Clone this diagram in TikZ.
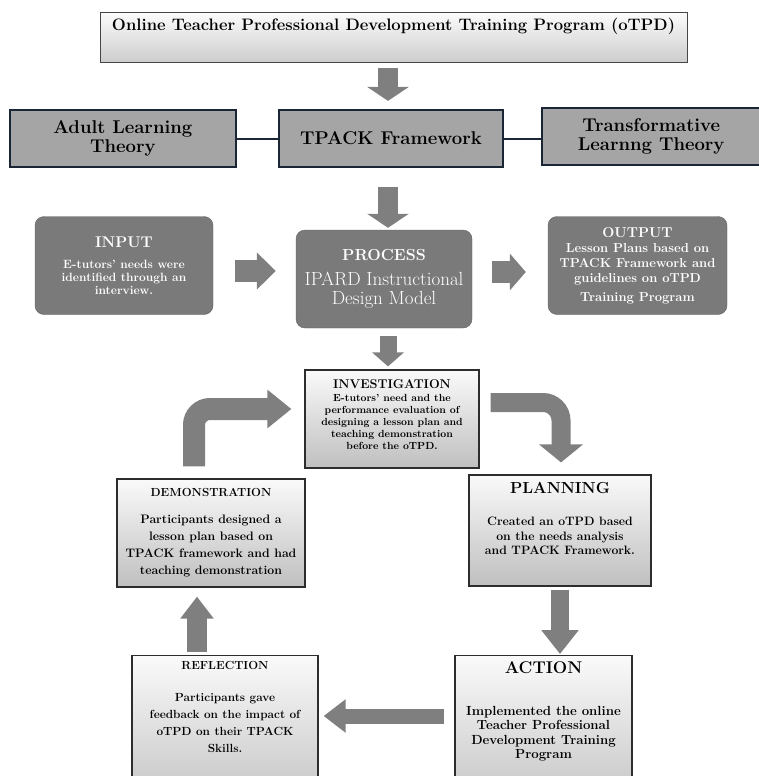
\documentclass[tikz,border=0pt]{standalone}
\usepackage{tikz}
\usetikzlibrary{arrows.meta, positioning}

\definecolor{arrowgray}{HTML}{7F7F7F}
\definecolor{navyline}{HTML}{1A2636}
\definecolor{theorygray}{HTML}{A5A5A5}
\definecolor{ipogray}{HTML}{7A7A7A}

\newcommand{\fsz}[2]{\fontsize{#1}{#2}\selectfont}

\tikzset{
    node distance = 40pt and 40pt, % gap between neighbouring boxes
    arrowbar/.style = {draw=arrowgray, line width=20pt, -{Triangle[width=41pt, length=14pt]}}, % the grey block arrows
    titlebox/.style = {rectangle, draw=gray!55!black, line width=1pt, top color=gray!3, bottom color=gray!40, minimum width=587pt, inner ysep=4pt, text height=14pt, text depth=28pt, font=\bfseries\fsz{16.6}{19}},
    theorybox/.style = {rectangle, draw=navyline, line width=2.2pt, fill=theorygray, minimum height=57pt, align=center, font=\bfseries\fsz{18.5}{19}},
    ipobox/.style = {rectangle, rounded corners=9pt, draw=ipogray!80!black, fill=ipogray, text=white, minimum height=98pt, align=center},
    cyclebox/.style = {rectangle, draw=gray!35!black, line width=1.2pt, top color=gray!4, bottom color=gray!50, align=center, font=\bfseries\fsz{12.3}{17}}
}

\begin{document}
\begin{tikzpicture}[x=1pt, y=-1pt] % one unit = one pixel of the original, y grows downwards
    \useasboundingbox (0,0) rectangle (759,776);
    \node[titlebox] (otpd) at (393.5,38) {Online Teacher Professional Development Training Program (oTPD)};
    \node[theorybox, minimum width=224pt] (tpack) at (391,138.5) {TPACK Framework};
    \node[theorybox, minimum width=226pt, left=41pt of tpack] (adult) {Adult Learning\\Theory};
    \node[theorybox, minimum width=218pt, right=37pt of tpack, yshift=2pt] (transform) {Transformative\\Learnng Theory};
    \node[ipobox, minimum width=176pt, font=\fsz{19}{19}] (process) at (384,279) {\textbf{\fsz{16}{18}PROCESS}\\[6pt]IPARD Instructional\\Design Model};
    \node[ipobox, minimum width=178pt, font=\bfseries\fsz{12}{13}] (input) at (124,265.5) {{\fsz{15.5}{17}INPUT}\\[8pt]E-tutors' needs were\\identified through an\\interview.};
    \node[ipobox, minimum width=179pt, font=\bfseries\fsz{13}{15}] (output) at (637.5,265.5) {{\fsz{14.3}{15}OUTPUT}\\Lesson Plans based on\\TPACK Framework and\\guidelines on oTPD\\[4pt]Training Program};
    \node[cyclebox, minimum width=174pt, minimum height=98pt, font=\bfseries\fsz{10.3}{12.2}] (invest) at (392,419) {{\fsz{12.7}{13}INVESTIGATION}\\E-tutors' need and the\\performance evaluation of\\designing a lesson plan and\\teaching demonstration\\before the oTPD.\\[-4pt]\mbox{}};
    \node[cyclebox, minimum width=182pt, minimum height=111pt, font=\bfseries\fsz{12.2}{14.5}] (planning) at (560,530.5) {{\fsz{16}{17}PLANNING}\\[18pt]Created an oTPD based\\on the needs analysis\\and TPACK Framework.\\[10pt]\mbox{}};
    \node[cyclebox, minimum width=188pt, minimum height=108pt] (demo) at (211,533) {{\fsz{11.7}{13}DEMONSTRATION}\\[10pt]Participants designed a\\lesson plan based on\\TPACK framework and had\\teaching demonstration};
    \node[cyclebox, minimum width=186pt, anchor=north, inner ysep=6pt, font=\bfseries\fsz{11.8}{17}] (reflect) at (225,655) {{\fsz{11.7}{13}REFLECTION}\\[15pt]Participants gave\\feedback on the impact of\\oTPD on their TPACK\\Skills.\\[40pt]\mbox{}};
    \node[cyclebox, minimum width=177pt, anchor=north, inner ysep=6pt, font=\bfseries\fsz{13.2}{14.5}] (action) at (543.5,655) {{\fsz{17}{18}ACTION}\\[27pt]Implemented the online\\Teacher Professional\\Development Training\\Program\\[40pt]\mbox{}};
    % lines between the three theory boxes
    \draw[navyline, line width=2pt] (adult) -- (tpack);
    \draw[navyline, line width=2pt] (tpack.east) -- (tpack.east -| transform.west);
    % block arrows
    \draw[arrowbar, shorten <=5pt, shorten >=8pt] (otpd.south -| 388,0) -- (tpack.north -| 388,0);
    \draw[arrowbar, shorten <=19pt, shorten >=2pt] (tpack.south -| 388,0) -- (process.north -| 388,0);
    \draw[arrowbar, line width=22pt, -{Triangle[width=36pt, length=19pt]}, shorten <=22pt, shorten >=20pt] (input.east |- 0,271) -- (process.west |- 0,271);
    \draw[arrowbar, line width=22pt, -{Triangle[width=36pt, length=16pt]}, shorten <=20pt, shorten >=22pt] (process.east |- 0,272) -- (output.west |- 0,272);
    \draw[arrowbar, line width=17pt, -{Triangle[width=31pt, length=14pt]}, shorten <=8pt, shorten >=3pt] (process.south -| 388,0) -- (invest.north -| 388,0);
    \draw[arrowbar, line width=19pt, -{Triangle[width=43pt, length=18pt]}, rounded corners=18pt, shorten <=11pt, shorten >=12pt] (invest.east |- 0,402.5) -| (planning.north -| 561,0);
    \draw[arrowbar, line width=18pt, -{Triangle[width=36pt, length=24pt]}, shorten <=3pt, shorten >=1pt] (planning.south -| 560,0) -- (action.north -| 560,0);
    \draw[arrowbar, line width=15pt, -{Triangle[width=32pt, length=22pt]}, shorten <=10pt, shorten >=5pt] (action.west |- 0,716) -- (reflect.east |- 0,716);
    \draw[arrowbar, -{Triangle[width=32pt, length=22pt]}, shorten <=3pt, shorten >=9pt] (reflect.north -| 197,0) -- (demo.south -| 197,0);
    \draw[arrowbar, line width=22pt, -{Triangle[width=37pt, length=24pt]}, rounded corners=16pt, shorten <=12pt, shorten >=13pt] (demo.north -| 194,0) |- (invest.west |- 0,409);
\end{tikzpicture}
\end{document}
